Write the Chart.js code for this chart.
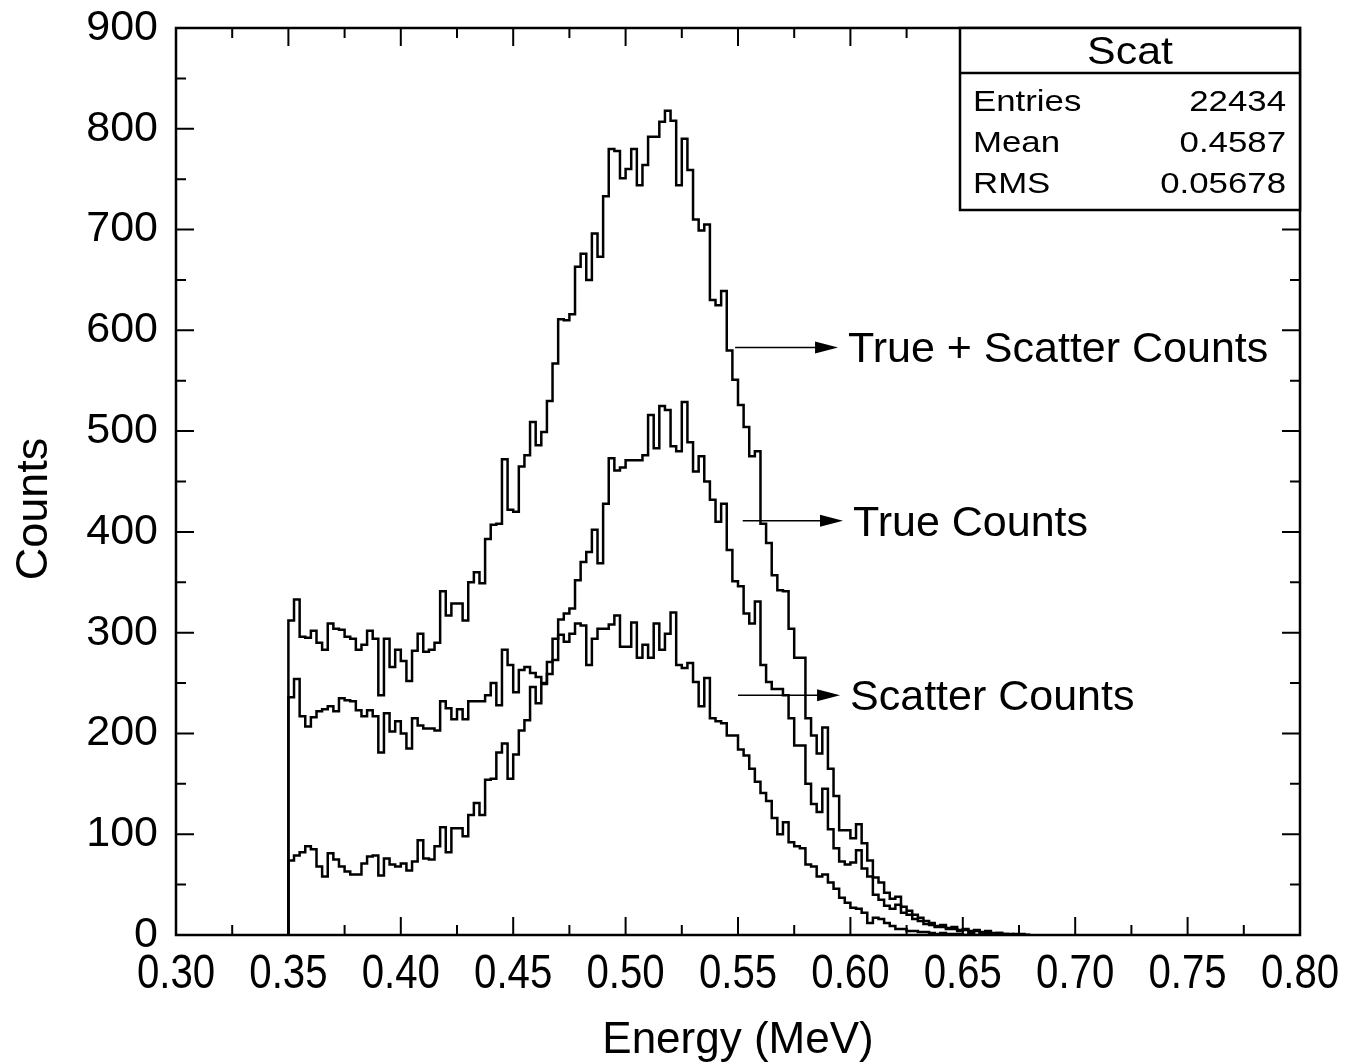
<!DOCTYPE html>
<html>
<head>
<meta charset="utf-8">
<title>Scat</title>
<script src="https://cdn.jsdelivr.net/npm/chart.js@4.4.1/dist/chart.umd.min.js"></script>
<style>
  html, body { margin: 0; padding: 0; background: #fff; }
  #wrap { width: 1363px; height: 1064px; }
</style>
</head>
<body>
<div id="wrap"><canvas id="chartScat"></canvas></div>
<script>
// histogram binning (0.0025 MeV per bin, first bin at 0.35)
const BIN_START = 0.35;
const BIN_WIDTH = 0.0025;

const trueScatterCounts = [
  312, 333, 296, 295, 302, 290, 283, 309, 304, 303,
  296, 294, 283, 288, 302, 294, 238, 294, 266, 283,
  272, 252, 282, 299, 281, 283, 290, 341, 317, 329,
  329, 312, 350, 360, 349, 393, 407, 408, 472, 422,
  420, 465, 476, 509, 486, 499, 530, 567, 611, 610,
  616, 663, 676, 650, 696, 673, 733, 780, 778, 751,
  760, 780, 744, 764, 792, 792, 807, 818, 808, 744,
  790, 759, 710, 699, 705, 630, 625, 639, 580, 551,
  526, 504, 475, 480, 408, 389, 357, 342, 341, 304,
  275, 275, 215, 198, 180, 206, 165, 138, 104, 104,
  96, 110, 91, 74, 57, 52, 42, 36, 38, 28,
  24, 20, 17, 14, 12, 9, 10, 7, 8, 5,
  6, 4, 5, 3, 4, 2, 2, 1, 1, 0,
  1, 0,
];

const trueCounts = [
  236, 254, 217, 207, 216, 222, 224, 227, 222, 235,
  233, 232, 223, 217, 223, 217, 181, 220, 202, 212,
  200, 185, 215, 208, 205, 205, 203, 232, 225, 214,
  224, 214, 232, 232, 232, 238, 250, 228, 283, 268,
  241, 263, 266, 260, 256, 249, 271, 294, 313, 319,
  324, 352, 370, 380, 402, 369, 428, 473, 461, 464,
  471, 471, 471, 476, 516, 483, 525, 521, 485, 480,
  529, 489, 460, 475, 450, 432, 410, 428, 382, 351,
  346, 319, 309, 331, 268, 251, 244, 244, 238, 215,
  188, 188, 150, 130, 122, 145, 105, 86, 73, 70,
  72, 84, 66, 58, 40, 35, 29, 26, 30, 22,
  20, 16, 14, 11, 10, 8, 8, 6, 6, 4,
  5, 3, 4, 2, 3, 1, 2, 1, 0, 1,
  0, 0,
];

const scatterCounts = [
  74, 79, 82, 88, 85, 68, 58, 81, 75, 68,
  63, 60, 60, 71, 78, 79, 59, 76, 70, 68,
  71, 64, 73, 94, 76, 75, 88, 107, 82, 106,
  106, 98, 119, 131, 119, 154, 155, 181, 190, 155,
  179, 203, 213, 246, 230, 250, 259, 273, 298, 291,
  299, 309, 307, 268, 294, 304, 304, 308, 317, 286,
  286, 310, 275, 288, 275, 309, 283, 299, 320, 268,
  265, 270, 251, 227, 255, 215, 212, 210, 198, 198,
  184, 178, 165, 152, 141, 133, 116, 100, 112, 92,
  88, 86, 70, 68, 58, 60, 52, 46, 37, 32,
  27, 26, 22, 12, 17, 16, 12, 9, 6, 6,
  4, 4, 3, 3, 2, 1, 2, 1, 1, 1,
  0, 1, 0, 0, 1, 0, 0, 0, 0, 0,
  0, 0,
];

const statsTitle = 'Scat';
const statsLabels = ['Entries', 'Mean', 'RMS'];
const statsValues = ['22434', '0.4587', '0.05678'];

// arrow callouts, in data coordinates
const callouts = [
  { label: 'True + Scatter Counts', fromX: 0.5487, toX: 0.5945, atY: 583 },
  { label: 'True Counts', fromX: 0.5521, toX: 0.5967, atY: 411 },
  { label: 'Scatter Counts', fromX: 0.5500, toX: 0.5954, atY: 238 },
];

const SANS = '"Liberation Sans", Arial, Helvetica, sans-serif';

function histogramPoints(counts) {
  const points = [{ x: BIN_START, y: 0 }];
  counts.forEach((value, index) => {
    points.push({ x: BIN_START + index * BIN_WIDTH, y: value });
  });
  points.push({ x: BIN_START + counts.length * BIN_WIDTH, y: 0 });
  return points;
}

function stretchedText(ctx, text, x, y, sx, align) {
  ctx.save();
  ctx.translate(x, y);
  ctx.scale(sx, 1);
  ctx.textAlign = align;
  ctx.fillText(text, 0, 0);
  ctx.restore();
}

const frameAndLabels = {
  id: 'frameAndLabels',
  afterDraw(chart) {
    const { ctx, chartArea: a, scales } = chart;
    const x = scales.x;
    const y = scales.y;
    ctx.save();
    ctx.strokeStyle = '#000';
    ctx.fillStyle = '#000';

    // ticks on all four sides
    ctx.lineWidth = 2;
    ctx.beginPath();
    for (let k = 0; k <= 20; k++) {
      const px = x.getPixelForValue(0.3 + k * 0.025);
      const len = k % 2 === 0 ? 18 : 10;
      ctx.moveTo(px, a.bottom);
      ctx.lineTo(px, a.bottom - len);
      ctx.moveTo(px, a.top);
      ctx.lineTo(px, a.top + len);
    }
    for (let k = 0; k <= 18; k++) {
      const py = y.getPixelForValue(k * 50);
      const len = k % 2 === 0 ? 18 : 10;
      ctx.moveTo(a.left, py);
      ctx.lineTo(a.left + len, py);
      ctx.moveTo(a.right, py);
      ctx.lineTo(a.right - len, py);
    }
    ctx.stroke();

    // plot frame
    ctx.lineWidth = 2.5;
    ctx.strokeRect(a.left, a.top, a.right - a.left, a.bottom - a.top);

    // x tick labels (condensed, as in the original)
    ctx.textBaseline = 'alphabetic';
    ctx.font = `49px ${SANS}`;
    x.ticks.forEach((tick) => {
      stretchedText(ctx, Number(tick.value).toFixed(2), x.getPixelForValue(tick.value), a.bottom + 53, 0.82, 'center');
    });

    // stats box
    const boxRight = a.right;
    const boxLeft = a.right - 340;
    const boxTop = a.top;
    const boxBottom = a.top + 182;
    ctx.fillStyle = '#fff';
    ctx.fillRect(boxLeft, boxTop, boxRight - boxLeft, boxBottom - boxTop);
    ctx.fillStyle = '#000';
    ctx.strokeRect(boxLeft, boxTop, boxRight - boxLeft, boxBottom - boxTop);
    ctx.beginPath();
    ctx.moveTo(boxLeft, boxTop + 45);
    ctx.lineTo(boxRight, boxTop + 45);
    ctx.stroke();

    ctx.font = `39px ${SANS}`;
    stretchedText(ctx, statsTitle, (boxLeft + boxRight) / 2, boxTop + 36, 1.1, 'center');
    ctx.font = `29px ${SANS}`;
    statsLabels.forEach((label, i) => {
      const base = boxTop + 83 + i * 41;
      stretchedText(ctx, label, boxLeft + 13, base, 1.2, 'left');
      stretchedText(ctx, statsValues[i], boxRight - 14, base, 1.2, 'right');
    });

    // arrows and their labels
    ctx.font = `43px ${SANS}`;
    ctx.lineWidth = 1.5;
    callouts.forEach((c) => {
      const x0 = x.getPixelForValue(c.fromX);
      const x1 = x.getPixelForValue(c.toX);
      const py = y.getPixelForValue(c.atY);
      ctx.beginPath();
      ctx.moveTo(x0, py);
      ctx.lineTo(x1 - 20, py);
      ctx.stroke();
      ctx.beginPath();
      ctx.moveTo(x1, py);
      ctx.lineTo(x1 - 23, py - 6);
      ctx.lineTo(x1 - 23, py + 6);
      ctx.closePath();
      ctx.fill();
      ctx.textAlign = 'left';
      ctx.fillText(c.label, x1 + 10, py + 15);
    });

    // axis titles
    ctx.font = `44px ${SANS}`;
    ctx.textAlign = 'center';
    ctx.fillText('Energy (MeV)', (a.left + a.right) / 2, 1053);
    ctx.save();
    ctx.translate(47, 509);
    ctx.rotate(-Math.PI / 2);
    ctx.font = `45px ${SANS}`;
    ctx.fillText('Counts', 0, 0);
    ctx.restore();

    ctx.restore();
  },
};

function histogramDataset(label, counts) {
  return {
    label,
    data: histogramPoints(counts),
    borderColor: '#000',
    borderWidth: 2.5,
    pointRadius: 0,
    fill: false,
    stepped: 'before',
  };
}

new Chart(document.getElementById('chartScat').getContext('2d'), {
  type: 'line',
  data: {
    datasets: [
      histogramDataset('True + Scatter Counts', trueScatterCounts),
      histogramDataset('True Counts', trueCounts),
      histogramDataset('Scatter Counts', scatterCounts),
    ],
  },
  options: {
    responsive: true,
    maintainAspectRatio: false,
    animation: false,
    layout: { padding: { top: 28, right: 63, left: 0, bottom: 0 } },
    plugins: {
      legend: { display: false },
      tooltip: { enabled: false },
    },
    scales: {
      x: {
        type: 'linear',
        min: 0.3,
        max: 0.8,
        grid: { display: false, drawTicks: false },
        border: { display: false },
        ticks: { stepSize: 0.05, display: false },
        afterFit(scale) {
          scale.height = 129;
          scale.paddingLeft = 0;
          scale.paddingRight = 0;
        },
      },
      y: {
        min: 0,
        max: 900,
        grid: { display: false, drawTicks: false },
        border: { display: false },
        ticks: {
          stepSize: 100,
          padding: 18,
          color: '#000',
          font: { family: SANS, size: 43 },
        },
        afterFit(scale) {
          scale.width = 176;
          scale.paddingTop = 0;
          scale.paddingBottom = 0;
        },
      },
    },
  },
  plugins: [frameAndLabels],
});
</script>
</body>
</html>
